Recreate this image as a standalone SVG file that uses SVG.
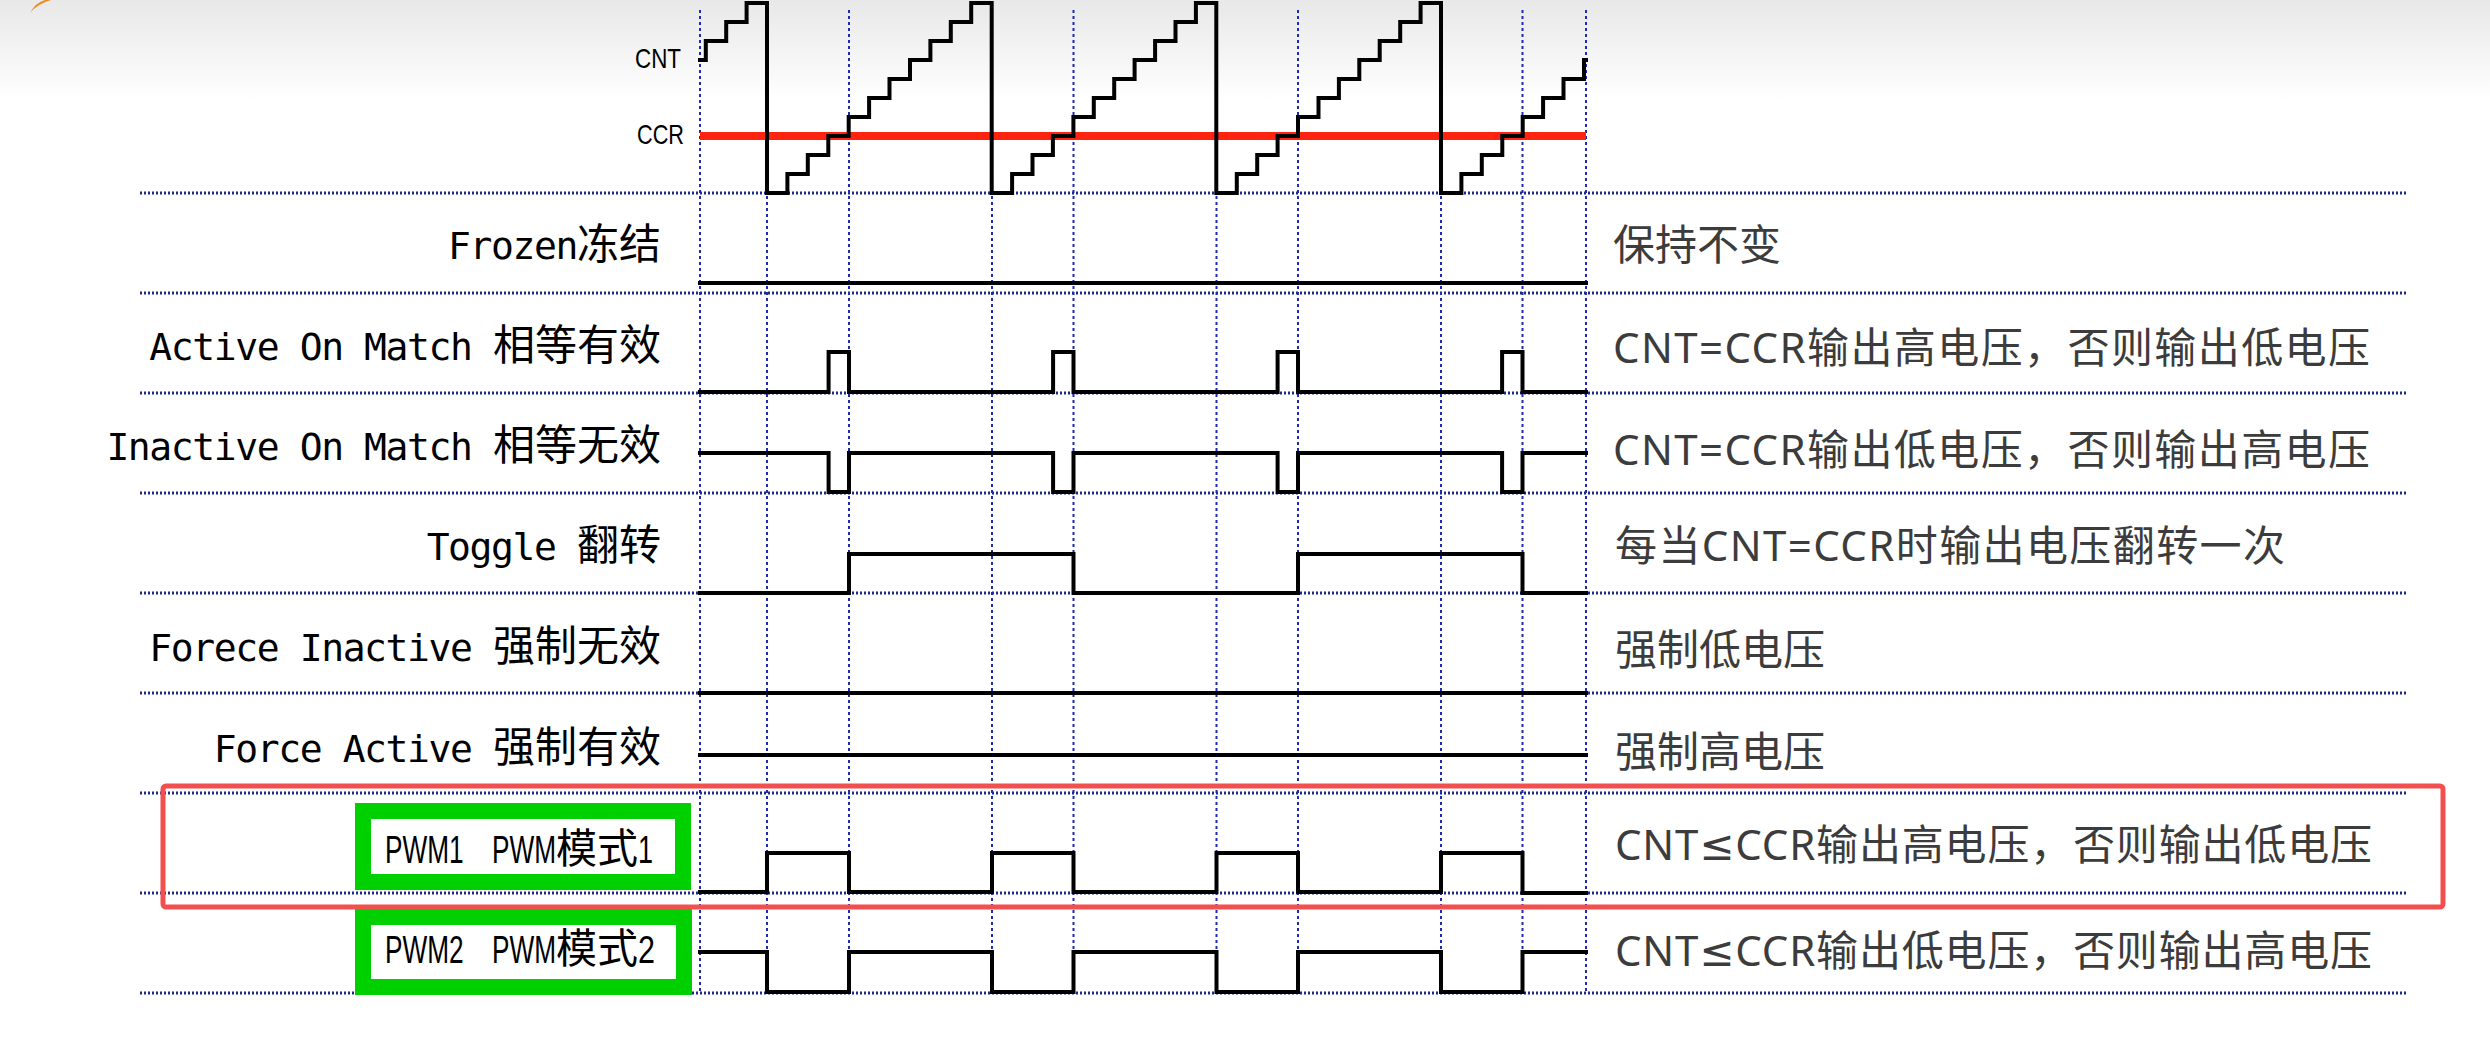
<svg xmlns="http://www.w3.org/2000/svg" width="2490" height="1041" viewBox="0 0 2490 1041">
<defs>
<linearGradient id="topg" x1="0" y1="0" x2="0" y2="1">
<stop offset="0" stop-color="#e8e8e8"/>
<stop offset="1" stop-color="#ffffff"/>
</linearGradient>
</defs>
<style>
.hl{stroke:#1d2a8a;stroke-width:3;stroke-dasharray:2 2;fill:none}
.vl{stroke:#1f2ab0;stroke-width:2;stroke-dasharray:3 3;fill:none}
.wave{stroke:#000;stroke-width:4;fill:none;stroke-linejoin:miter;stroke-linecap:square}
.lab{font-family:"DejaVu Sans Mono","Noto Sans CJK SC",monospace;font-size:38px;letter-spacing:-1.4px;fill:#000;text-anchor:end}
.cjk{font-family:"Noto Sans CJK SC",sans-serif;font-size:42px;letter-spacing:0}
.desc{font-family:"Noto Sans","Noto Sans CJK SC",sans-serif;font-size:42px;fill:#3c3c3c}
.le{font-family:"DejaVu Sans",sans-serif}
.narrow{font-family:"Liberation Sans","Noto Sans CJK SC",sans-serif;fill:#000}
.gbox{fill:#fff;stroke:#00d000;stroke-width:16}
</style>
<rect x="0" y="0" width="2490" height="1041" fill="#fff"/>
<rect x="0" y="0" width="2490" height="100" fill="url(#topg)"/>
<path d="M30,13 Q37,4 51,0 L45,0 Q35,3 30,13 Z" fill="#f08a1c"/>

<g id="grid">
<path class="hl" d="M140,193H2407M140,293H2407M140,393H2407M140,493H2407M140,593H2407M140,693H2407M140,793H2407M140,893H2407M140,993H2407"/>
<path class="vl" d="M700,10V993M767,10V993M849,10V993M992,10V993M1073.5,10V993M1216.5,10V993M1298,10V993M1441,10V993M1522.5,10V993M1586,10V993"/>
</g>

<g id="cnt-ccr">
<line x1="700" y1="136" x2="1586" y2="136" stroke="#ff2410" stroke-width="8"/>
<path class="wave" d="M700,60 H705.8 V41 H726.2 V22 H746.6 V3 H767 V193 H787.4 V174 H807.8 V155 H828.3 V136 H848.7 V117 H869.1 V98 H889.5 V79 H910 V60 H930.4 V41 H950.8 V22 H971.2 V3 H991.7 V193 H1012.1 V174 H1032.5 V155 H1052.9 V136 H1073.4 V117 H1093.8 V98 H1114.2 V79 H1134.6 V60 H1155.1 V41 H1175.5 V22 H1195.9 V3 H1216.3 V193 H1236.8 V174 H1257.2 V155 H1277.6 V136 H1298 V117 H1318.5 V98 H1338.9 V79 H1359.3 V60 H1379.7 V41 H1400.2 V22 H1420.6 V3 H1441 V193 H1461.4 V174 H1481.8 V155 H1502.3 V136 H1522.7 V117 H1543.1 V98 H1563.5 V79 H1584 V60 H1586"/>
<text class="narrow" x="635" y="68" font-size="28" textLength="46" lengthAdjust="spacingAndGlyphs">CNT</text>
<text class="narrow" x="637" y="144" font-size="28" textLength="47" lengthAdjust="spacingAndGlyphs">CCR</text>
</g>

<g id="row-frozen">
<text class="lab" x="661" y="259" xml:space="preserve">Frozen<tspan class="cjk">冻结</tspan></text>
<path class="wave" d="M700,283H1586"/>
<text class="desc" x="1613" y="260">保持不变</text>
</g>

<g id="row-active">
<text class="lab" x="661" y="360" xml:space="preserve">Active On Match <tspan class="cjk">相等有效</tspan></text>
<path class="wave" d="M700,392 H828.6 V352 H849 V392 H1053.1 V352 H1073.5 V392 H1277.6 V352 H1298 V392 H1502.1 V352 H1522.5 V392 H1586"/>
<text class="desc" x="1613" y="363" textLength="757">CNT=CCR输出高电压，否则输出低电压</text>
</g>

<g id="row-inactive">
<text class="lab" x="661" y="460" xml:space="preserve">Inactive On Match <tspan class="cjk">相等无效</tspan></text>
<path class="wave" d="M700,453 H828.6 V492 H849 V453 H1053.1 V492 H1073.5 V453 H1277.6 V492 H1298 V453 H1502.1 V492 H1522.5 V453 H1586"/>
<text class="desc" x="1613" y="465" textLength="757">CNT=CCR输出低电压，否则输出高电压</text>
</g>

<g id="row-toggle">
<text class="lab" x="661" y="560" xml:space="preserve">Toggle <tspan class="cjk">翻转</tspan></text>
<path class="wave" d="M700,593 H849 V554 H1073.5 V593 H1298 V554 H1522.5 V593 H1586"/>
<text class="desc" x="1615" y="561" textLength="670">每当CNT=CCR时输出电压翻转一次</text>
</g>

<g id="row-force-inactive">
<text class="lab" x="661" y="661" xml:space="preserve">Forece Inactive <tspan class="cjk">强制无效</tspan></text>
<path class="wave" d="M700,693H1586"/>
<text class="desc" x="1615" y="665">强制低电压</text>
</g>

<g id="row-force-active">
<text class="lab" x="661" y="762" xml:space="preserve">Force Active <tspan class="cjk">强制有效</tspan></text>
<path class="wave" d="M700,755H1586"/>
<text class="desc" x="1615" y="767">强制高电压</text>
</g>

<g id="row-pwm1">
<rect class="gbox" x="363" y="811" width="320" height="71"/>
<text class="narrow" font-size="38" transform="translate(385,863) scale(0.69,1)">PWM1</text>
<text class="narrow" x="492" y="863" font-size="38"><tspan textLength="64" lengthAdjust="spacingAndGlyphs">PWM</tspan><tspan font-size="41">模式</tspan><tspan textLength="15" lengthAdjust="spacingAndGlyphs">1</tspan></text>
<path class="wave" d="M700,892 H767 V853 H849 V892 H992 V853 H1073.5 V892 H1216.5 V853 H1298 V892 H1441 V853 H1522.5 V893 H1586"/>
<text class="desc" x="1615" y="860" textLength="757">CNT<tspan class="le">≤</tspan>CCR输出高电压，否则输出低电压</text>
</g>

<g id="row-pwm2">
<rect class="gbox" x="363" y="917" width="321" height="70" stroke-width="14"/>
<text class="narrow" font-size="38" transform="translate(385,963) scale(0.69,1)">PWM2</text>
<text class="narrow" x="492" y="963" font-size="38"><tspan textLength="64" lengthAdjust="spacingAndGlyphs">PWM</tspan><tspan font-size="41">模式</tspan><tspan textLength="17" lengthAdjust="spacingAndGlyphs">2</tspan></text>
<path class="wave" d="M700,952 H767 V992 H849 V952 H992 V992 H1073.5 V952 H1216.5 V992 H1298 V952 H1441 V992 H1522.5 V952 H1586"/>
<text class="desc" x="1615" y="966" textLength="757">CNT<tspan class="le">≤</tspan>CCR输出低电压，否则输出高电压</text>
</g>

<g id="highlight">
<rect x="163" y="786" width="2280" height="121" rx="3" fill="none" stroke="#f24f4f" stroke-width="5"/>
</g>
</svg>
